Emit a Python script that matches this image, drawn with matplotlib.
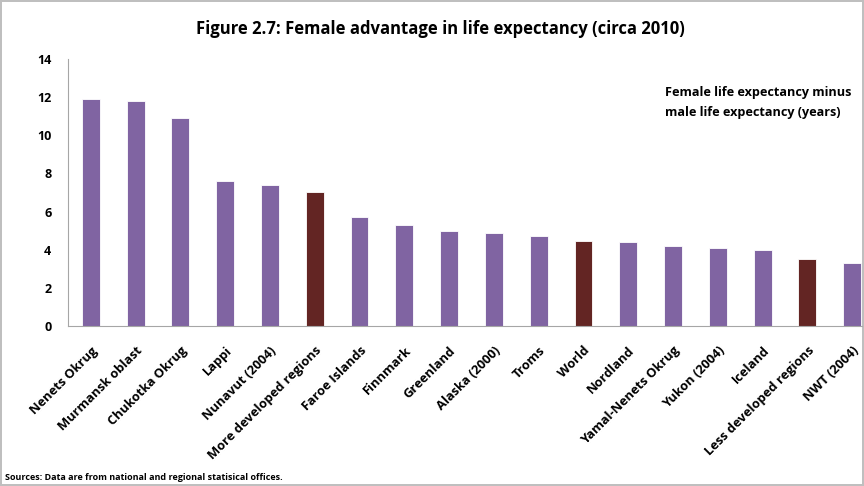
import numpy as np
import matplotlib.pyplot as plt

# Female minus male life expectancy (years), circa 2010
regions = ['Nenets Okrug', 'Murmansk oblast', 'Chukotka Okrug', 'Lappi',
           'Nunavut (2004)', 'More developed regions', 'Faroe Islands',
           'Finnmark', 'Greenland', 'Alaska (2000)', 'Troms', 'World',
           'Nordland', 'Yamal-Nenets Okrug', 'Yukon (2004)', 'Iceland',
           'Less developed regions', 'NWT (2004)']
gap = [11.9, 11.8, 10.9, 7.6, 7.4, 7.0, 5.7, 5.3, 5.0, 4.9, 4.7, 4.46,
       4.4, 4.2, 4.1, 4.0, 3.5, 3.3]
aggregates = ['More developed regions', 'World', 'Less developed regions']

purple = '#8064A2'
darkred = '#632523'

plt.rcParams['font.family'] = ['Open Sans', 'DejaVu Sans']

fig = plt.figure(figsize=(8.64, 4.86), dpi=100)
fig.patch.set_edgecolor('#BFBFBF')
fig.patch.set_linewidth(1.5)
ax = fig.add_axes([0.0787, 0.329, 0.919, 0.55])

x = np.arange(len(regions))
colors = [darkred if r in aggregates else purple for r in regions]
ax.bar(x, gap, width=0.4, color=colors, edgecolor='white', linewidth=0.6)

ax.set_ylim(0, 14)
ax.set_yticks(range(0, 15, 2))
ax.set_xlim(-0.51, len(regions) - 0.78)
ax.set_xticks(x)
ax.set_xticklabels(regions, rotation=45, ha='right', rotation_mode='anchor',
                   fontsize=9.3, fontweight='bold')
for lab in ax.get_yticklabels():
    lab.set_fontweight('bold')
    lab.set_fontsize(9)
ax.tick_params(axis='y', length=0, pad=12)
ax.tick_params(axis='x', length=0, pad=13)

for side in ['top', 'right']:
    ax.spines[side].set_visible(False)
for side in ['left', 'bottom']:
    ax.spines[side].set_color('#A6A6A6')

fig.text(0.51, 0.94, 'Figure 2.7: Female advantage in life expectancy (circa 2010)',
         ha='center', va='center', fontsize=12, fontweight='bold')
fig.text(0.77, 0.79, 'Female life expectancy minus\nmale life expectancy (years)',
         ha='left', va='center', fontsize=9.1, fontweight='bold', linespacing=1.7)
fig.text(0.006, 0.017, 'Sources: Data are from national and regional statisical offices.',
         ha='left', va='center', fontsize=6.5, fontweight='bold')

fig.savefig('out.png', dpi=100, edgecolor=fig.get_edgecolor())
